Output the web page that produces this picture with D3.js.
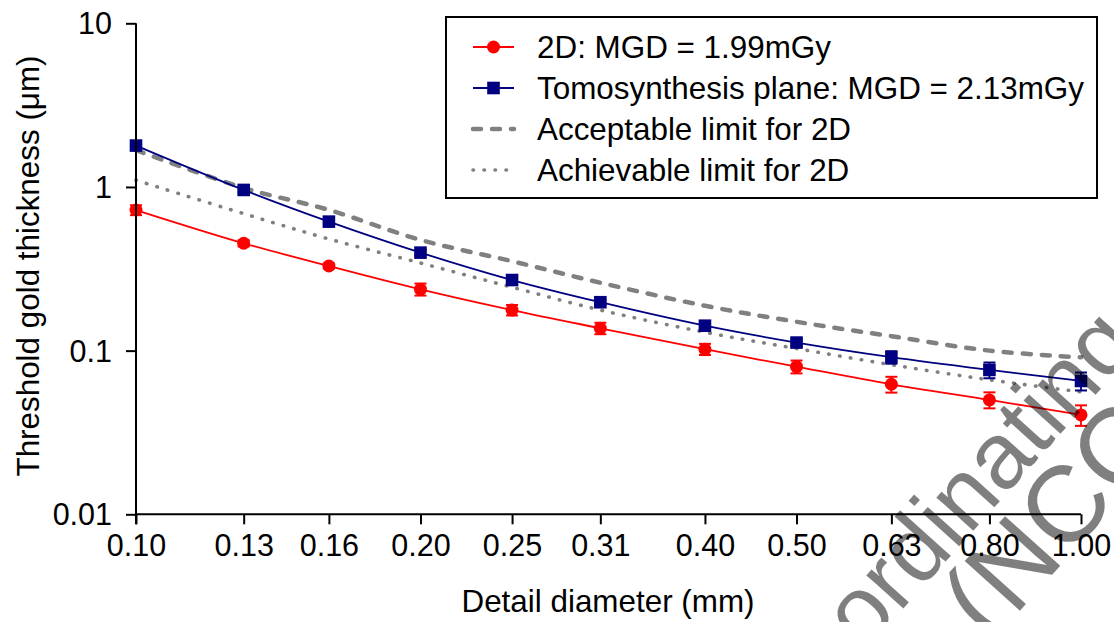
<!DOCTYPE html>
<html>
<head>
<meta charset="utf-8">
<script src="https://cdn.jsdelivr.net/npm/d3@7"></script>
<style>
  html, body { margin: 0; padding: 0; background: #fff; }
  svg { display: block; }
  text { font-family: "Liberation Sans", Arial, sans-serif; fill: #000; }
</style>
</head>
<body>
<svg id="chart" width="1114" height="622"></svg>
<script>
// Detail diameters (mm) on the x axis
const diameters = [0.10, 0.13, 0.16, 0.20, 0.25, 0.31, 0.40, 0.50, 0.63, 0.80, 1.00];
const xTickLabels = ["0.10", "0.13", "0.16", "0.20", "0.25", "0.31", "0.40", "0.50", "0.63", "0.80", "1.00"];
const yTickValues = [10, 1, 0.1, 0.01];
const yTickLabels = ["10", "1", "0.1", "0.01"];

// Threshold gold thickness (µm)
const values2D   = [0.723, 0.453, 0.329, 0.237, 0.177, 0.137, 0.102, 0.0798, 0.0623, 0.050, 0.0405];
const errors2D   = [0.05, 0.02, 0.012, 0.02, 0.013, 0.011, 0.008, 0.0072, 0.0069, 0.0056, 0.0058];
const valuesTomo = [1.79, 0.959, 0.614, 0.397, 0.270, 0.1976, 0.142, 0.112, 0.0912, 0.0762, 0.0653];
const errorsTomo = [0.05, 0.03, 0.02, 0.015, 0.01, 0.008, 0.006, 0.005, 0.008, 0.0084, 0.0082];
const acceptable = [1.68, 0.986, 0.724, 0.475, 0.352, 0.260, 0.188, 0.150, 0.1225, 0.100, 0.091];
const achievable = [1.10, 0.687, 0.481, 0.343, 0.244, 0.177, 0.1295, 0.103, 0.082, 0.0663, 0.056];

const legendLabels = [
  "2D: MGD = 1.99mGy",
  "Tomosynthesis plane: MGD = 2.13mGy",
  "Acceptable limit for 2D",
  "Achievable limit for 2D"
];

const svg = d3.select("#chart");
const TICK_FONT = 30.5;
const TEXT_FONT = 31.4;

const x = d3.scaleLog().domain([0.1, 1]).range([136, 1081]);
const y = d3.scaleLog().domain([0.01, 10]).range([514.3, 23.3]);

const curve = d3.curveCatmullRom.alpha(0.5);
const line = d3.line().x(d => x(d[0])).y(d => y(d[1])).curve(curve);
const pairs = vals => diameters.map((d, i) => [d, vals[i]]);

// Reference limit curves
const styles = {
  acceptable: { stroke: "#808080", width: 4.5, dash: "8 11" },
  achievable: { stroke: "#808080", width: 3.6, dash: "0.5 10.5" }
};
svg.append("path").datum(pairs(acceptable)).attr("d", line)
  .attr("fill", "none").attr("stroke", styles.acceptable.stroke)
  .attr("stroke-width", styles.acceptable.width)
  .attr("stroke-dasharray", styles.acceptable.dash).attr("stroke-linecap", "round");
svg.append("path").datum(pairs(achievable)).attr("d", line)
  .attr("fill", "none").attr("stroke", styles.achievable.stroke)
  .attr("stroke-width", styles.achievable.width)
  .attr("stroke-dasharray", styles.achievable.dash).attr("stroke-linecap", "round");

// Measured series: smooth line, error bars, markers
function drawSeries(vals, errs, color, shape) {
  const g = svg.append("g");
  g.append("path").datum(pairs(vals)).attr("d", line)
    .attr("fill", "none").attr("stroke", color).attr("stroke-width", 1.8);
  const eb = g.selectAll(".eb").data(pairs(vals).map((p, i) => [p[0], p[1], errs[i]]))
    .enter().append("g");
  eb.append("line")
    .attr("x1", d => x(d[0])).attr("x2", d => x(d[0]))
    .attr("y1", d => y(d[1] + d[2])).attr("y2", d => y(d[1] - d[2]))
    .attr("stroke", color).attr("stroke-width", 1.8);
  [1, -1].forEach(s => {
    eb.append("line")
      .attr("x1", d => x(d[0]) - 6).attr("x2", d => x(d[0]) + 6)
      .attr("y1", d => y(d[1] + s * d[2])).attr("y2", d => y(d[1] + s * d[2]))
      .attr("stroke", color).attr("stroke-width", 2);
  });
  const m = g.selectAll(".m").data(pairs(vals)).enter();
  if (shape === "circle") {
    m.append("circle").attr("cx", d => x(d[0])).attr("cy", d => y(d[1]))
      .attr("r", 6.5).attr("fill", color);
  } else {
    m.append("rect").attr("x", d => x(d[0]) - 6.3).attr("y", d => y(d[1]) - 6.3)
      .attr("width", 12.6).attr("height", 12.6).attr("fill", color);
  }
}
drawSeries(values2D, errors2D, "#ff0000", "circle");
drawSeries(valuesTomo, errorsTomo, "#000080", "square");

// Axes
const xAxis = d3.axisBottom(x).tickValues(diameters)
  .tickFormat((d, i) => xTickLabels[i]).tickSize(10).tickPadding(10);
const gx = svg.append("g").attr("transform", `translate(0,${y(0.01)})`).call(xAxis);
gx.select(".domain").attr("d", `M${x(0.1)},0H${x(1)}`);

const yAxis = d3.axisLeft(y).tickValues(yTickValues)
  .tickFormat((d, i) => yTickLabels[i]).tickSize(10).tickPadding(14);
const gy = svg.append("g").attr("transform", `translate(${x(0.1)},0)`).call(yAxis);
gy.select(".domain").attr("d", `M0,${y(10)}V${y(0.01) + 10}`);

[gx, gy].forEach(g => {
  g.selectAll(".domain, .tick line").attr("stroke", "#000").attr("stroke-width", 2);
  g.selectAll("text").style("font-size", TICK_FONT + "px")
    .style("font-family", '"Liberation Sans", Arial, sans-serif').attr("fill", "#000");
});
gy.selectAll(".tick text").attr("dy", "0.35em");

// Axis titles
svg.append("text").attr("x", 608).attr("y", 612).attr("text-anchor", "middle")
  .style("font-size", TEXT_FONT + "px").text("Detail diameter (mm)");
svg.append("text").attr("transform", "translate(39,266) rotate(-90)")
  .attr("text-anchor", "middle").style("font-size", TEXT_FONT + "px")
  .text("Threshold gold thickness (\u03BCm)");

// Legend
const lg = svg.append("g");
lg.append("rect").attr("x", 446).attr("y", 17).attr("width", 651).attr("height", 181)
  .attr("fill", "#fff").attr("stroke", "#000").attr("stroke-width", 2);
const rows = [47, 88, 129, 170];
const lx0 = 473, lx1 = 514, lxm = 493.5;
function legendLine(yy, color, w, dash) {
  const l = lg.append("line").attr("x1", lx0).attr("x2", lx1).attr("y1", yy).attr("y2", yy)
    .attr("stroke", color).attr("stroke-width", w);
  if (dash) l.attr("stroke-dasharray", dash).attr("stroke-linecap", "round");
}
legendLine(rows[0], "#ff0000", 1.8);
lg.append("circle").attr("cx", lxm).attr("cy", rows[0]).attr("r", 6.5).attr("fill", "#ff0000");
legendLine(rows[1], "#000080", 1.8);
lg.append("rect").attr("x", lxm - 6.3).attr("y", rows[1] - 6.3).attr("width", 12.6).attr("height", 12.6)
  .attr("fill", "#000080");
legendLine(rows[2], styles.acceptable.stroke, styles.acceptable.width, styles.acceptable.dash);
legendLine(rows[3], styles.achievable.stroke, styles.achievable.width, styles.achievable.dash);
legendLabels.forEach((t, i) => {
  lg.append("text").attr("x", 537).attr("y", rows[i]).attr("dy", "0.35em")
    .style("font-size", TEXT_FONT + "px").text(t);
});

// Watermark across the lower right corner
const wm = svg.append("g").style("font-family", '"Liberation Sans", Arial, sans-serif');
const w1 = wm.append("g").attr("transform", "translate(864,652) rotate(-48)").style("font-size", "94px");
w1.append("text").attr("x", 0).attr("text-anchor", "end").text("Co-");
w1.append("text").attr("x", 0).text("ordinating Centre");
const w2 = wm.append("g").attr("transform", "translate(990,644) rotate(-48)").style("font-size", "108px");
w2.append("text").text("(NCCPM)");
wm.selectAll("text").style("fill", "#000").style("fill-opacity", 0.5);
</script>
</body>
</html>
